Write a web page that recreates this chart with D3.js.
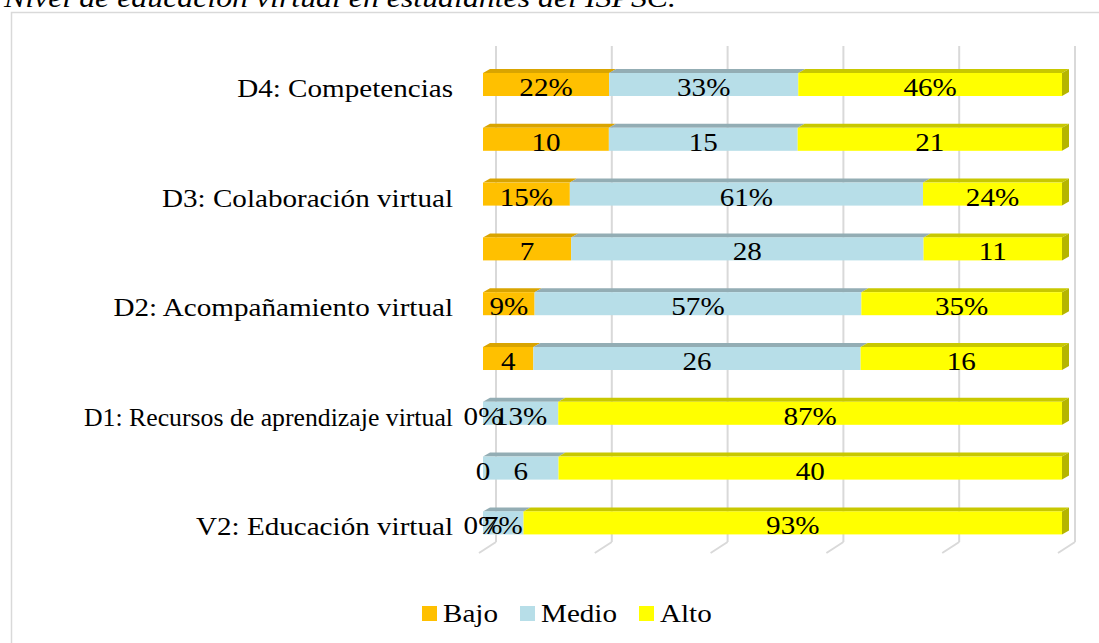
<!DOCTYPE html>
<html>
<head>
<meta charset="utf-8">
<script src="https://cdn.jsdelivr.net/npm/d3@7"></script>
<style>
  html, body { margin: 0; padding: 0; background: #fff; overflow: hidden; }
  svg { display: block; }
</style>
</head>
<body>
<svg id="chart" width="1099" height="643"></svg>
<script>
// ---------------- data ----------------
const title = "Nivel de educación virtual en estudiantes del ISPSC.";
const categories = ["D4: Competencias", "", "D3: Colaboración virtual", "", "D2: Acompañamiento virtual", "", "D1: Recursos de aprendizaje virtual", "", "V2: Educación virtual"];
const isPercent = [true, false, true, false, true, false, true, false, true];
const seriesNames = ["Bajo", "Medio", "Alto"];
const bajo  = [22, 10, 15, 7, 9, 4, 0, 0, 0];
const medio = [33, 15, 61, 28, 57, 26, 13, 6, 7];
const alto  = [46, 21, 24, 11, 35, 16, 87, 40, 93];
const gridTicks = [0, 0.2, 0.4, 0.6, 0.8, 1];

// ---------------- styles ----------------
const frontColors = ["#FFC000", "#B7DEE8", "#FFFF00"];
const topColors   = ["#D9A400", "#93ADB4", "#C8C800"];
const sideColors  = ["#C79500", "#8DA6AD", "#B5B500"];
const FONT = "'Liberation Serif', 'Times New Roman', serif";
const SX = 1.12; // horizontal stretch of the original picture
const LABEL_RIGHT = 453, LABEL_MAXW = 369;

const svg = d3.select("#chart");
const W = 1099, H = 643;

const x = d3.scaleLinear().domain([0, 1]).range([483, 1062]);
const rows = d3.range(categories.length);
const y = d3.scaleBand().domain(rows).range([40, 567.4]).paddingInner(0.58).paddingOuter(0.602).align(0.5);
const dx = 7, dy = -4;          // bar depth
const backDx = 13;              // back wall offset
const gridTop = 46, gridBottom = 542;
const floorDx = -17, floorDy = 11;

// chart border
svg.append("rect")
  .attr("x", 11.5).attr("y", 12.5)
  .attr("width", W + 20).attr("height", H + 20)
  .attr("fill", "#fff").attr("stroke", "#d9d9d9").attr("stroke-width", 1.5);

// title (cut at top)
svg.append("text")
  .attr("x", 4).attr("y", 7)
  .attr("font-family", FONT).attr("font-style", "italic")
  .attr("font-size", 28).attr("fill", "#000")
  .attr("textLength", 672).attr("lengthAdjust", "spacingAndGlyphs")
  .text(title);

// gridlines on back wall + floor
const grid = svg.append("g");
gridTicks.forEach(t => {
  const gx = x(t) + backDx;
  grid.append("line")
    .attr("x1", gx).attr("x2", gx).attr("y1", gridTop).attr("y2", gridBottom)
    .attr("stroke", "#d9d9d9").attr("stroke-width", 2);
  grid.append("line")
    .attr("x1", gx).attr("y1", gridBottom).attr("x2", gx + floorDx).attr("y2", gridBottom + floorDy)
    .attr("stroke", "#d9d9d9").attr("stroke-width", 2);
});

// stack
const table = rows.map(i => ({ row: i, Bajo: bajo[i], Medio: medio[i], Alto: alto[i] }));
const stack = d3.stack().keys(seriesNames).offset(d3.stackOffsetExpand);
const stacked = stack(table);

const barsG = svg.append("g");
const labelsG = svg.append("g");

rows.forEach(i => {
  const top = y(i), h = y.bandwidth();
  stacked.forEach((s, k) => {
    const d = s[i];
    const x0 = x(d[0]), x1 = x(d[1]);
    const val = table[i][seriesNames[k]];
    if (x1 - x0 > 0.01) {
      barsG.append("polygon")
        .attr("points", [[x0, top], [x0 + dx, top + dy], [x1 + dx, top + dy], [x1, top]].map(p => p.join(",")).join(" "))
        .attr("fill", topColors[k]);
      barsG.append("rect")
        .attr("x", x0).attr("y", top).attr("width", x1 - x0).attr("height", h)
        .attr("fill", frontColors[k]);
      if (d[1] >= 0.9999) {
        barsG.append("polygon")
          .attr("points", [[x1, top], [x1 + dx, top + dy], [x1 + dx, top + h + dy], [x1, top + h]].map(p => p.join(",")).join(" "))
          .attr("fill", sideColors[k]);
      }
    }
    labelsG.append("text")
      .attr("transform", `translate(${(x0 + x1) / 2},${top + 23}) scale(${SX},1)`)
      .attr("text-anchor", "middle")
      .attr("font-family", FONT).attr("font-size", 26).attr("fill", "#000")
      .text(val + (isPercent[i] ? "%" : ""));
  });
  if (categories[i]) {
    const t = svg.append("text")
      .attr("transform", `translate(${LABEL_RIGHT},${top + 24}) scale(${SX},1)`)
      .attr("text-anchor", "end")
      .attr("font-family", FONT).attr("font-size", 26).attr("fill", "#000")
      .text(categories[i]);
    const wNat = t.node().getComputedTextLength() * SX;
    if (wNat > LABEL_MAXW) {
      t.attr("transform", `translate(${LABEL_RIGHT},${top + 24}) scale(${SX * LABEL_MAXW / wNat},1)`);
    }
  }
});

// legend
const legendX = [422, 520, 639];
const legend = svg.append("g");
seriesNames.forEach((name, k) => {
  legend.append("rect")
    .attr("x", legendX[k]).attr("y", 606).attr("width", 15).attr("height", 15)
    .attr("fill", frontColors[k]);
  legend.append("text")
    .attr("transform", `translate(${legendX[k] + 21},622) scale(${SX},1)`)
    .attr("font-family", FONT).attr("font-size", 26).attr("fill", "#000")
    .text(name);
});
</script>
</body>
</html>
